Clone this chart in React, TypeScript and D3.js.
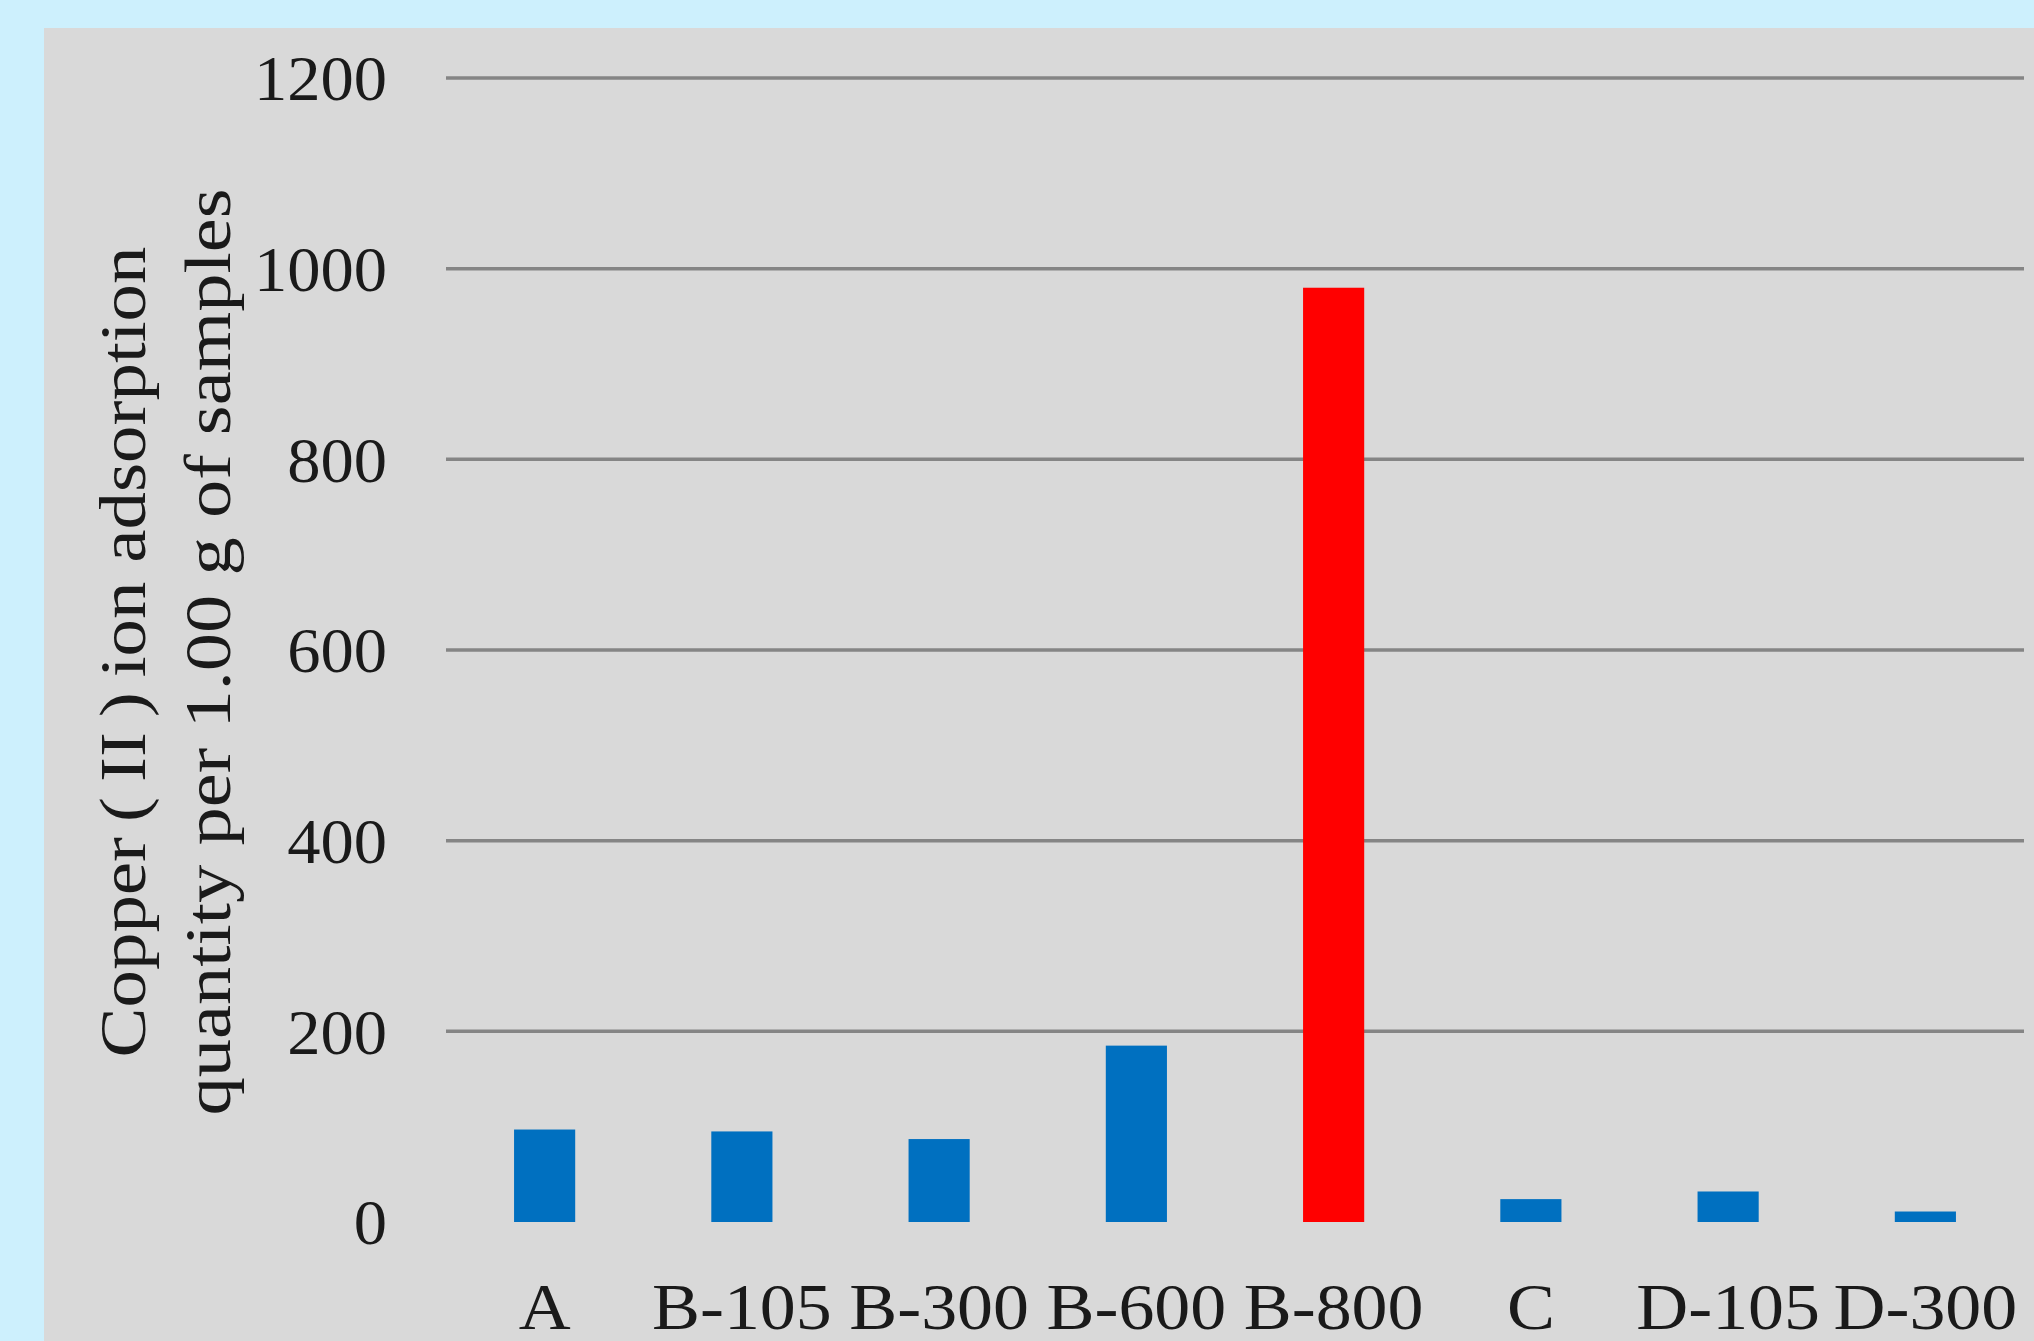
import React from "react";
import * as d3 from "d3";

const categories = ["A", "B-105", "B-300", "B-600", "B-800", "C", "D-105", "D-300"];
const values = [97, 95, 87, 185, 980, 24, 32, 11];
const highlight = ["B-800"];
const yTicks = [0, 200, 400, 600, 800, 1000, 1200];
const titleLines = ["Copper\u2009(\u2009II\u2009)\u2009ion adsorption", "quantity per 1.00 g of samples"];

const W = 2034;
const H = 1341;
const FONT = "'Liberation Serif', 'DejaVu Serif', serif";

export default function App() {
  const x = d3.scaleBand<string>().domain(categories).range([446, 2024]).paddingInner(0.69).paddingOuter(0.345);
  const y = d3.scaleLinear().domain([0, 1200]).range([1222, 78]);

  return (
    <div style={{ position: "fixed", left: 0, top: 0, width: W, height: H }}>
      <svg width={W} height={H} style={{ display: "block" }}>
        <rect x={0} y={0} width={W} height={H} fill="#CDF0FD" />
        <rect x={44} y={28} width={W - 44} height={H - 28} fill="#D9D9D9" />
        {yTicks.filter((t) => t > 0).map((t) => (
          <line key={t} x1={446} x2={2024} y1={y(t)} y2={y(t)} stroke="#858585" strokeWidth={3.5} />
        ))}
        {yTicks.map((t) => (
          <text
            key={"l" + t}
            transform={`translate(387,${y(t)}) scale(1.04,1)`}
            dy="0.35em"
            textAnchor="end"
            fontFamily={FONT}
            fontSize={64}
            fill="#1a1a1a"
          >
            {t}
          </text>
        ))}
        {categories.map((c, i) => (
          <rect
            key={c}
            x={x(c)}
            width={x.bandwidth()}
            y={y(values[i])}
            height={y(0) - y(values[i])}
            fill={highlight.includes(c) ? "#FF0000" : "#0070C0"}
          />
        ))}
        {categories.map((c) => (
          <text
            key={"x" + c}
            transform={`translate(${(x(c) as number) + x.bandwidth() / 2},1329) scale(1.09,1)`}
            textAnchor="middle"
            fontFamily={FONT}
            fontSize={66}
            fill="#1a1a1a"
          >
            {c}
          </text>
        ))}
        <text
          transform="translate(145,652) rotate(-90)"
          textAnchor="middle"
          fontFamily={FONT}
          fontSize={66}
          fill="#1a1a1a"
          textLength={811}
          lengthAdjust="spacingAndGlyphs"
        >
          {titleLines[0]}
        </text>
        <text
          transform="translate(230,652) rotate(-90)"
          textAnchor="middle"
          fontFamily={FONT}
          fontSize={66}
          fill="#1a1a1a"
          textLength={927}
          lengthAdjust="spacingAndGlyphs"
        >
          {titleLines[1]}
        </text>
      </svg>
    </div>
  );
}
